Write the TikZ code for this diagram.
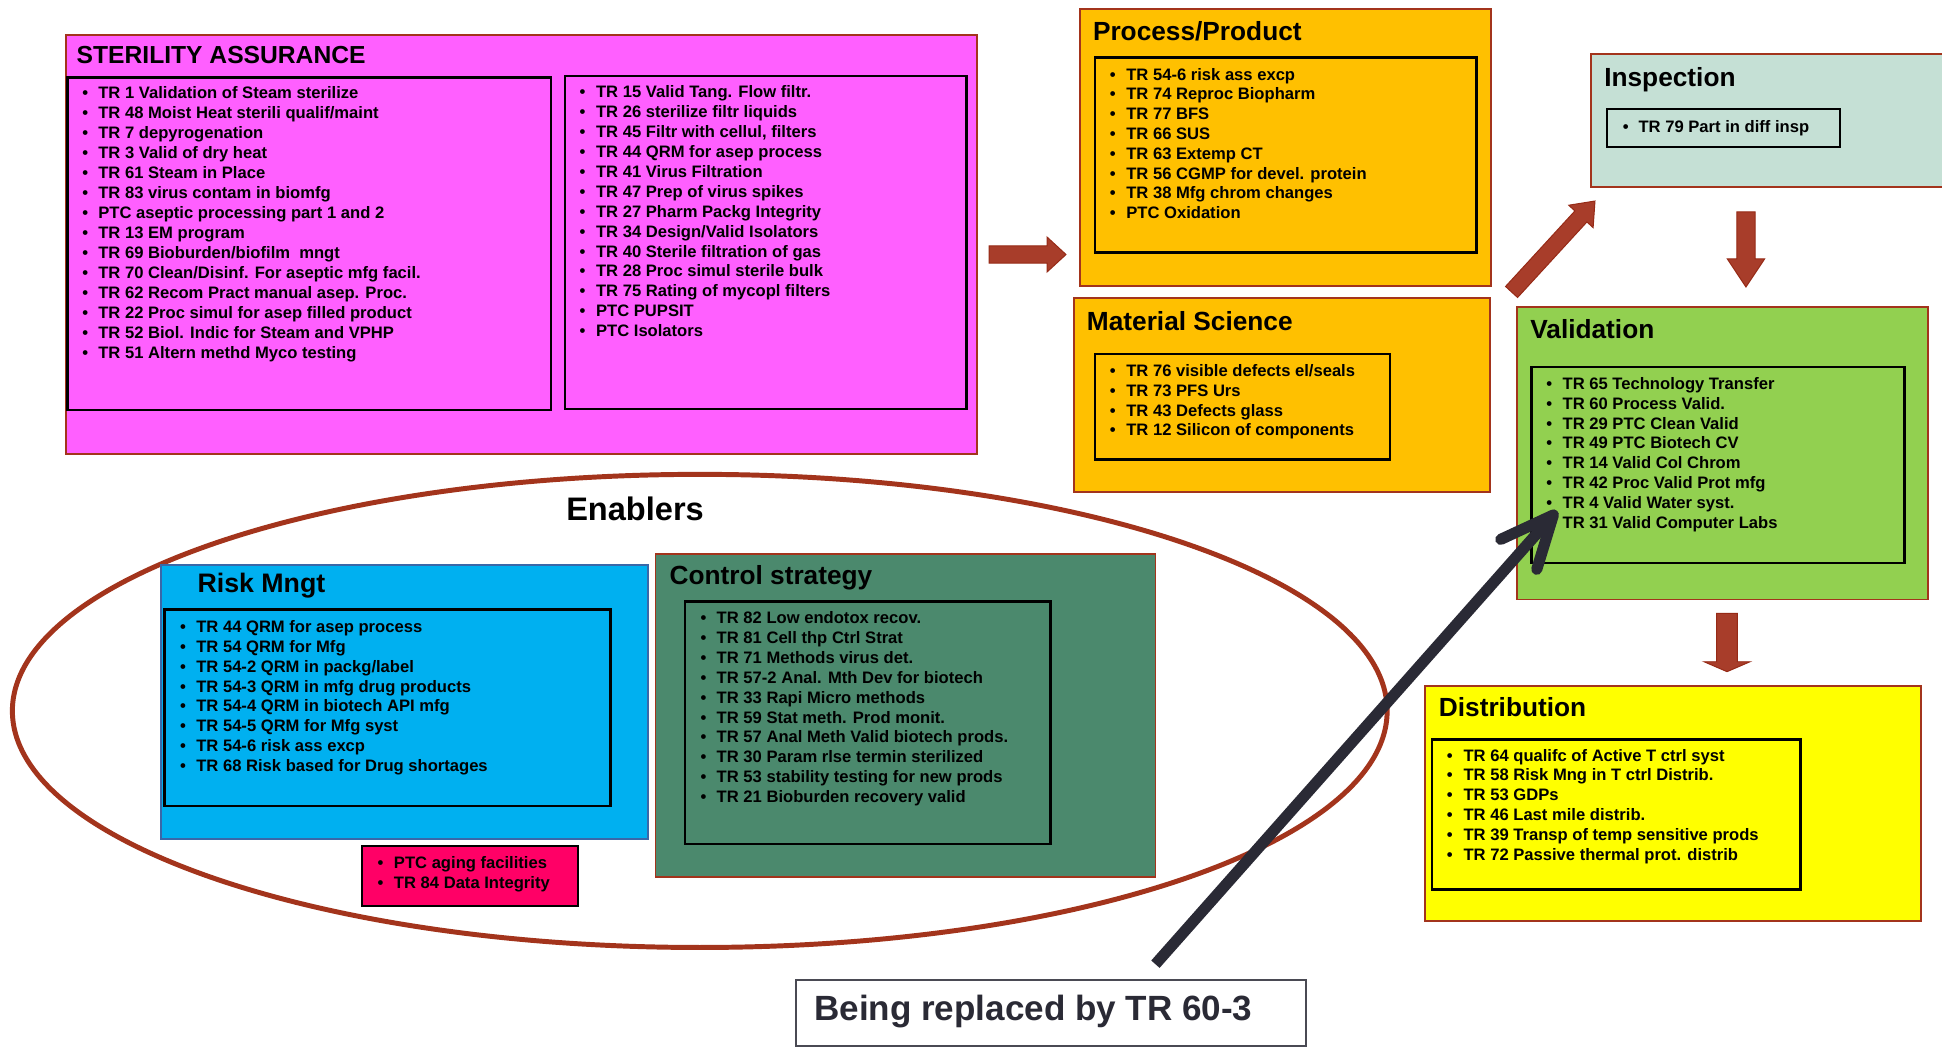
\documentclass[tikz,border=0pt]{standalone}
\usepackage{fontspec}
\setmainfont{Liberation Sans}
\definecolor{bred}{HTML}{A3341C}
\definecolor{magentab}{HTML}{FF5FFF}
\definecolor{orangeb}{HTML}{FFC000}
\definecolor{mintb}{HTML}{C5E0D5}
\definecolor{greenb}{HTML}{92D050}
\definecolor{yellowb}{HTML}{FFFF00}
\definecolor{blueb}{HTML}{00B0F0}
\definecolor{blueline}{HTML}{3A68A8}
\definecolor{pinkb}{HTML}{FF0066}
\definecolor{seab}{HTML}{4B896D}
\definecolor{darkgr}{HTML}{2A2A35}
\definecolor{arrfill}{HTML}{A83D2A}
\definecolor{arrlight}{HTML}{B9503F}
\definecolor{arrline}{HTML}{962A16}

% rectangle node: name, x1, y1, x2, y2, style
\newcommand\rectnode[6]{%
  \node[#6, inner sep=0pt, outer sep=0pt, anchor=north west,
        minimum width={#4-#2}, minimum height={#5-#3}] (#1) at (#2,#3) {};}
% bullet list: prefix, bullet x, text x, first baseline y, spacing, items
\newcommand\itemlist[6]{%
  \foreach \txt [count=\i] in {#6}{%
    \node[itm] (#1b\i) at ({#2},{#4+#5*(\i-1)}) {\textbullet};
    \node[itm] (#1t\i) at ({#3},{#4+#5*(\i-1)}) {\txt};
  }}

\begin{document}
\begin{tikzpicture}[x=1pt,y=-1pt,
  itm/.style={font=\fontsize{13.4}{16}\selectfont\bfseries, inner sep=0pt, anchor=base west},
  ttl/.style={font=\fontsize{21.2}{24}\selectfont\bfseries, inner sep=0pt, anchor=base west},
  outerbox/.style={draw=bred, line width=1.5pt},
  innerbox/.style={draw=black, line width=2pt},
  blockarr/.style={draw=arrline, line width=0.8pt},
  ring/.style={draw=bred, line width=4pt},
  blk/.style={draw=darkgr, line width=9pt}]

\path[use as bounding box] (0,0) rectangle (1568,845);
\fill[white] (0,0) rectangle (1568,845);
\clip (0,0) rectangle (1568,845);

% ---------- Sterility assurance ----------
\rectnode{sa}{53.5}{28.5}{788.5}{366.5}{outerbox, fill=magentab}
\node[ttl, font=\fontsize{19.9}{22}\selectfont\bfseries] (saT) at (61.7,51.1) {STERILITY ASSURANCE};
\rectnode{saL}{54.5}{62.4}{445}{331}{innerbox}
\rectnode{saR}{456}{61.4}{780.5}{330.2}{innerbox}
\itemlist{sl}{66.4}{79.2}{79.9}{16.1}{TR 1 Validation of Steam sterilize,
  TR 48 Moist Heat sterili qualif/maint,
  TR 7 depyrogenation,
  TR 3 Valid of dry heat,
  TR 61 Steam in Place,
  TR 83 virus contam in biomfg,
  PTC aseptic processing part 1 and 2,
  TR 13 EM program,
  TR 69 Bioburden/biofilm\ \ mngt,
  TR 70 Clean/Disinf. For aseptic mfg facil.,
  TR 62 Recom Pract manual asep. Proc.,
  TR 22 Proc simul for asep filled product,
  TR 52 Biol. Indic for Steam and VPHP,
  TR 51 Altern methd Myco testing}
\itemlist{sr}{467.8}{481.1}{78.9}{16.08}{TR 15 Valid Tang. Flow filtr.,
  TR 26 sterilize filtr liquids,
  {TR 45 Filtr with cellul, filters},
  TR 44 QRM for asep process,
  TR 41 Virus Filtration,
  TR 47 Prep of virus spikes,
  TR 27 Pharm Packg Integrity,
  TR 34 Design/Valid Isolators,
  TR 40 Sterile filtration of gas,
  TR 28 Proc simul sterile bulk,
  TR 75 Rating of mycopl filters,
  PTC PUPSIT,
  PTC Isolators}

% ---------- Process / Product ----------
\rectnode{pp}{872}{7.3}{1204}{230.7}{outerbox, fill=orangeb}
\node[ttl] (ppT) at (882.3,32.4) {Process/Product};
\rectnode{ppI}{884.1}{46.3}{1192.3}{203.7}{innerbox}
\itemlist{pl}{896}{909.2}{64.6}{16}{TR 54-6 risk ass excp,
  TR 74 Reproc Biopharm,
  TR 77 BFS,
  TR 66 SUS,
  TR 63 Extemp CT,
  TR 56 CGMP for devel. protein,
  TR 38 Mfg chrom changes,
  PTC Oxidation}

% ---------- Material Science ----------
\rectnode{ms}{867.2}{240.9}{1203}{397}{outerbox, fill=orangeb}
\node[ttl] (msT) at (877.4,266.5) {Material Science};
\rectnode{msI}{884.1}{285.8}{1122.3}{370.9}{innerbox}
\itemlist{ml}{896}{909.2}{304}{16}{TR 76 visible defects el/seals,
  TR 73 PFS Urs,
  TR 43 Defects glass,
  TR 12 Silicon of components}

% ---------- Inspection ----------
\rectnode{ins}{1284.4}{43.6}{1600}{151.1}{outerbox, fill=mintb}
\node[ttl] (insT) at (1295.1,69.6) {Inspection};
\rectnode{insI}{1297.3}{88.1}{1485.7}{118.9}{innerbox}
\itemlist{il}{1310.2}{1322.8}{106.9}{16}{TR 79 Part in diff insp}

% ---------- Validation ----------
\rectnode{val}{1224.5}{248}{1557}{484}{outerbox, fill=greenb}
\node[ttl] (valT) at (1235.4,273.5) {Validation};
\rectnode{valI}{1236.7}{296.5}{1537.6}{454.7}{innerbox}
\itemlist{vl}{1248.3}{1261.5}{314.4}{16}{TR 65 Technology Transfer,
  TR 60 Process Valid.,
  TR 29 PTC Clean Valid,
  TR 49 PTC Biotech CV,
  TR 14 Valid Col Chrom,
  TR 42 Proc Valid Prot mfg,
  TR 4 Valid Water syst.,
  TR 31 Valid Computer Labs}

% ---------- Distribution ----------
\rectnode{dis}{1150.5}{553.6}{1551}{743.4}{outerbox, fill=yellowb}
\node[ttl] (disT) at (1161.6,578.7) {Distribution};
\rectnode{disI}{1156.1}{597}{1453.6}{718}{innerbox}
\itemlist{dl}{1168.1}{1181.5}{614.5}{16}{TR 64 qualifc of Active T ctrl syst,
  TR 58 Risk Mng in T ctrl Distrib.,
  TR 53 GDPs,
  TR 46 Last mile distrib.,
  TR 39 Transp of temp sensitive prods,
  TR 72 Passive thermal prot. distrib}

% ---------- Enablers ellipse ----------
\draw[ring] (565,574) ellipse [x radius=555pt, y radius=191pt];
\node[ttl, font=\fontsize{26.3}{30}\selectfont\bfseries] (enT) at (457,419.9) {Enablers};

% ---------- Risk Mngt ----------
\rectnode{rm}{130.2}{456.2}{523.5}{677.7}{draw=blueline, line width=1.5pt, fill=blueb}
\node[ttl, font=\fontsize{21.6}{24}\selectfont\bfseries] (rmT) at (159.3,478.5) {Risk Mngt};
\rectnode{rmI}{133}{492}{493}{650.8}{innerbox}
\itemlist{rl}{145.3}{158.3}{510.8}{16}{TR 44 QRM for asep process,
  TR 54 QRM for Mfg,
  TR 54-2 QRM in packg/label,
  TR 54-3 QRM in mfg drug products,
  TR 54-4 QRM in biotech API mfg,
  TR 54-5 QRM for Mfg syst,
  TR 54-6 risk ass excp,
  TR 68 Risk based for Drug shortages}

% ---------- PTC box ----------
\rectnode{ptc}{292.4}{683.1}{466.7}{731.5}{innerbox, fill=pinkb}
\itemlist{pc}{304.6}{317.9}{701.1}{16.2}{PTC aging facilities,
  TR 84 Data Integrity}

% ---------- Control strategy ----------
\rectnode{cs}{529.3}{447.3}{933}{708.4}{outerbox, fill=seab}
\node[ttl] (csT) at (540.4,472.3) {Control strategy};
\rectnode{csI}{552.9}{485.8}{848.2}{681.5}{innerbox}
\itemlist{cl}{565.4}{578.5}{503.8}{16}{TR 82 Low endotox recov.,
  TR 81 Cell thp Ctrl Strat,
  TR 71 Methods virus det.,
  TR 57-2 Anal. Mth Dev for biotech,
  TR 33 Rapi Micro methods,
  TR 59 Stat meth. Prod monit.,
  TR 57 Anal Meth Valid biotech prods.,
  TR 30 Param rlse termin sterilized,
  TR 53 stability testing for new prods,
  TR 21 Bioburden recovery valid}

% ---------- Being replaced box ----------
\rectnode{repl}{642.7}{791.3}{1054.3}{844.5}{draw=darkgr!85, line width=2pt, fill=white}
\node[ttl, font=\fontsize{28.3}{32}\selectfont\bfseries, text=darkgr] (replT) at (657.2,823.6) {Being replaced by TR 60-3};

% ---------- block arrows ----------
\draw[blockarr, top color=arrfill, middle color=arrlight, bottom color=arrfill]
  (798.6,198.6) -- (845.4,198.6) -- (845.4,191.4) -- (860.7,205.5)
  -- (845.4,219.6) -- (845.4,212.4) -- (798.6,212.4) -- cycle;
\draw[blockarr, left color=arrfill, middle color=arrlight, right color=arrfill, shading angle=-45]
  (1225.3,240.2) -- (1281.3,179.2) -- (1286.3,183.8) -- (1287.8,162.3)
  -- (1266.6,165.7) -- (1271.6,170.3) -- (1215.6,231.3) -- cycle;
\draw[blockarr, left color=arrfill, middle color=arrlight, right color=arrfill]
  (1402.3,171.1) -- (1417.1,171.1) -- (1417.1,209) -- (1424.8,209)
  -- (1409.7,231.7) -- (1394.6,209) -- (1402.3,209) -- cycle;
\draw[blockarr, left color=arrfill, middle color=arrlight, right color=arrfill]
  (1386,495.2) -- (1402.7,495.2) -- (1402.7,534.3) -- (1413,534.3)
  -- (1394.4,542.3) -- (1375.9,534.3) -- (1386,534.3) -- cycle;

% ---------- black arrow ----------
\coordinate (bstart) at (932.9,778.5);
\coordinate (btip) at (1254.2,415.8);
\coordinate (bw1) at (1211.7,435.5);
\coordinate (bw2) at (1240.8,459.7);
\draw[blk] (bstart) -- (btip);
\draw[blk, line cap=round, line join=round] (bw1) -- (btip) -- (bw2);
\end{tikzpicture}
\end{document}
